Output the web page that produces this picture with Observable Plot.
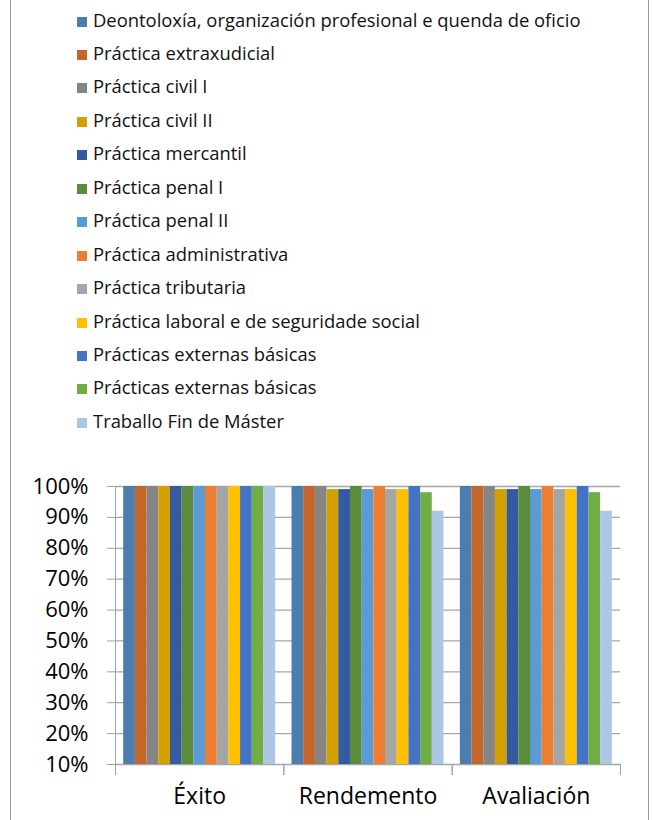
<!DOCTYPE html>
<html>
<head>
<meta charset="utf-8">
<script src="https://cdn.jsdelivr.net/npm/d3@7"></script>
<script src="https://cdn.jsdelivr.net/npm/@observablehq/plot@0.6"></script>
<style>
  html, body { margin: 0; padding: 0; background: #fff; }
  #wrap { position: relative; width: 652px; height: 820px; overflow: hidden; font-family: "Open Sans", sans-serif; }
  #border { position: absolute; left: 10px; top: 0; width: 639px; height: 820px; border-left: 1px solid #9a9a9a; border-right: 1px solid #9a9a9a; box-sizing: border-box; }
  .lrow { position: absolute; left: 77px; height: 24px; line-height: 24px; font-size: 18.4px; color: #111; white-space: nowrap; }
  .lrow span.sw { display: inline-block; width: 10px; height: 10px; margin-right: 6px; vertical-align: 0px; }
  #chart { position: absolute; left: 0; top: 460px; }
  #chart g[aria-label="y-axis tick label"] { fill: #000; font-size: 22px; }
  #chart g[aria-label="fx-axis tick label"] { fill: #000; font-size: 23px; }
</style>
</head>
<body>
<div id="wrap">
  <div id="border"></div>
  <div id="legend"></div>
  <div id="chart"></div>
</div>
<script>
const categories = ["Éxito", "Rendemento", "Avaliación"];
const subjects = [
  "Deontoloxía, organización profesional e quenda de oficio",
  "Práctica extraxudicial",
  "Práctica civil I",
  "Práctica civil II",
  "Práctica mercantil",
  "Práctica penal I",
  "Práctica penal II",
  "Práctica administrativa",
  "Práctica tributaria",
  "Práctica laboral e de seguridade social",
  "Prácticas externas básicas",
  "Prácticas externas básicas",
  "Traballo Fin de Máster"
];
const colors = ["#4a7eae", "#c4652b", "#858585", "#d4a000", "#355a9f", "#5a8c3c", "#5b9bd5", "#ed7d31", "#a5a5a5", "#ffc000", "#4472c4", "#70ad47", "#adc6e5"];
const exito      = [1.00, 1.00, 1.00, 1.00, 1.00, 1.00, 1.00, 1.00, 1.00, 1.00, 1.00, 1.00, 1.00];
const rendemento = [1.00, 1.00, 1.00, 0.99, 0.99, 1.00, 0.99, 1.00, 0.99, 0.99, 1.00, 0.98, 0.92];
const avaliacion = [1.00, 1.00, 1.00, 0.99, 0.99, 1.00, 0.99, 1.00, 0.99, 0.99, 1.00, 0.98, 0.92];
const yTicks = [0.1, 0.2, 0.3, 0.4, 0.5, 0.6, 0.7, 0.8, 0.9, 1.0];
const yMin = 0.1;

// legend
const legend = document.getElementById("legend");
subjects.forEach((s, i) => {
  const row = document.createElement("div");
  row.className = "lrow";
  row.style.top = (19.5 + 33.45 * i - 12) + "px";
  const sw = document.createElement("span");
  sw.className = "sw";
  sw.style.background = colors[i];
  row.appendChild(sw);
  row.appendChild(document.createTextNode(s));
  legend.appendChild(row);
});

const series = [exito, rendemento, avaliacion];
const rows = [];
categories.forEach((c, ci) => {
  subjects.forEach((s, si) => rows.push({cat: c, key: si, subject: s, value: series[ci][si]}));
});

const chart = Plot.plot({
  width: 652,
  height: 360,
  marginLeft: 115,
  marginRight: 32,
  marginTop: 26,
  marginBottom: 56,
  style: {fontFamily: "'Open Sans', sans-serif", color: "#a0a0a0", background: "transparent", fontSize: "22px"},
  fx: {domain: categories, padding: 0, round: false, label: null, tickSize: 0, tickPadding: 23},
  x: {domain: d3.range(subjects.length), paddingInner: 0, paddingOuter: 0.7, round: false, axis: null},
  y: {domain: [yMin, 1], ticks: yTicks, tickFormat: d3.format(".0%"), label: null, line: true, tickSize: 8, tickPadding: 19},
  color: {domain: d3.range(subjects.length), range: colors},
  marks: [
    Plot.ruleY(yTicks, {stroke: "#a6a6a6", strokeWidth: 1.3}),
    Plot.barY(rows, {fx: "cat", x: "key", y1: yMin, y2: "value", fill: "key"}),
    Plot.frame({anchor: "left", insetTop: 278, insetBottom: -10, stroke: "#a0a0a0"}),
    Plot.frame({anchor: "right", insetTop: 278, insetBottom: -10, stroke: "#a0a0a0"})
  ]
});
document.getElementById("chart").appendChild(chart);
</script>
</body>
</html>
